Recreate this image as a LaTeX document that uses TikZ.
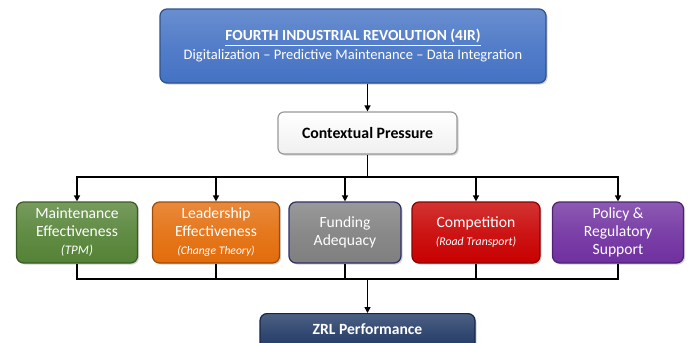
\documentclass[tikz,border=0pt]{standalone}
\usepackage{fontspec}
\setmainfont{Carlito}
\usetikzlibrary{arrows.meta,shadows,calc}

\definecolor{irblue}{HTML}{4472C4}
\definecolor{irborder}{HTML}{2F528F}
\definecolor{mgreen}{HTML}{548235}
\definecolor{lorange}{HTML}{E36C0A}
\definecolor{fgray}{HTML}{7F7F7F}
\definecolor{cred}{HTML}{C80000}
\definecolor{ppurple}{HTML}{7030A0}
\definecolor{zrlnavy}{HTML}{203864}

\newcommand\subnote[2][12.5]{{\fontsize{#1}{13}\selectfont\itshape #2}}

\tikzset{
  card/.style={draw=#1!70!black, line width=1.2pt, rounded corners=7pt,
    top color=#1!80!white, bottom color=#1, middle color=#1!92!white,
    text=white, align=center, inner sep=2pt,
    drop shadow={opacity=0.35, shadow xshift=1.5pt, shadow yshift=-1.5pt}},
  factor/.style={card=#1, minimum height=61pt, font=\fontsize{15.6}{18}\selectfont},
  conn/.style={line width=1.8pt, black},
  arr/.style={conn, -{Triangle[length=6pt,width=6pt]}}
}

\begin{document}
\begin{tikzpicture}[x=1pt,y=-1pt]
\clip (0,0) rectangle (689,343);
\useasboundingbox (0,0) rectangle (689,343);
\fill[white] (0,0) rectangle (689,343);

% top: 4IR box
\node[card=irblue, draw=irborder, minimum width=386pt, minimum height=74pt,
      font=\fontsize{14.5}{19}\selectfont] (ir) at (353,46)
  {{\fontsize{15.4}{19}\selectfont\textbf{\underline{FOURTH INDUSTRIAL REVOLUTION (4IR)}}}\\
   Digitalization -- Predictive Maintenance -- Data Integration};

% contextual pressure
\node[draw=gray!80, line width=1.2pt, rounded corners=6pt,
      top color=white, bottom color=gray!12,
      minimum width=179pt, minimum height=42pt,
      font=\fontsize{15.8}{16}\selectfont\bfseries,
      drop shadow={opacity=0.35, shadow xshift=1.5pt, shadow yshift=-1.5pt}]
  (cp) at (367.5,133) {Contextual Pressure};

% five factors
\node[factor=mgreen, minimum width=121pt] (m1) at (77,232.5)
  {Maintenance\\Effectiveness\\\subnote[13]{(TPM)}};
\node[factor=lorange, minimum width=127pt] (m2) at (216,232.5)
  {Leadership\\Effectiveness\\\subnote[11.6]{(Change Theory)}};
\node[factor=fgray, draw=gray!60!blue!60!black, minimum width=112pt] (m3) at (345,232.5)
  {Funding\\Adequacy};
\node[factor=cred, minimum width=128pt] (m4) at (476,232.5)
  {Competition\\\subnote[11.8]{(Road Transport)}};
\node[factor=ppurple, minimum width=131pt] (m5) at (618,232.5)
  {Policy \&\\Regulatory\\Support};

% outcome
\node[card=zrlnavy, minimum width=215pt, minimum height=40pt, anchor=north,
      font=\fontsize{15.6}{16}\selectfont\bfseries]
  (zrl) at (367.5,313) {\raisebox{10pt}{ZRL Performance}};

% bus lines
\coordinate (busT) at (370,177);
\coordinate (busB) at (368,279);

\draw[arr] (ir.south -| cp.north) -- (cp.north);
\draw[conn] (cp.south) -- (cp.south |- busT);
\draw[conn] ($(m1.north |- busT)+(-0.9,0)$) -- ($(m5.north |- busT)+(0.9,0)$);
\foreach \m in {m1,m2,m3,m4,m5}
  \draw[arr] (\m.north |- busT) -- (\m.north);

\foreach \m in {m1,m2,m3,m4,m5}
  \draw[conn] (\m.south) -- (\m.south |- busB);
\draw[conn] ($(m1.south |- busB)+(-0.9,0)$) -- ($(m5.south |- busB)+(0.9,0)$);
\draw[arr] (zrl.north |- busB) -- (zrl.north);
\end{tikzpicture}
\end{document}
